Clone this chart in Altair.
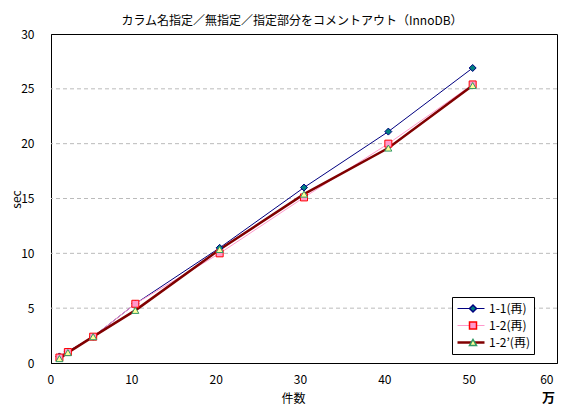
import altair as alt
import pandas as pd

FONT = "Noto Sans CJK JP"

counts = [1, 2, 5, 10, 20, 30, 40, 50]
sec_1_1 = [0.6, 1.05, 2.4, 5.4, 10.5, 16.0, 21.1, 26.9]
sec_1_2 = [0.5, 1.0, 2.4, 5.4, 10.0, 15.1, 20.0, 25.4]
sec_1_2p = [0.4, 0.95, 2.4, 4.8, 10.35, 15.4, 19.6, 25.3]

series_names = ["1-1(再)", "1-2(再)", "1-2’(再)"]
line_colors = ["#000080", "#FF99CC", "#800000"]
line_widths = [1, 1, 2.5]
marker_shapes = ["diamond", "square", "triangle-up"]
marker_fills = ["#008080", "#FF99CC", "#FFFF99"]
marker_strokes = ["#000080", "#FF0000", "#339966"]

grid_values = [5, 10, 15, 20, 25]

df = pd.DataFrame({
    "件数": counts * 3,
    "sec": sec_1_1 + sec_1_2 + sec_1_2p,
    "series": [n for n in series_names for _ in counts],
})
# separate key for the markers, so their legend is not merged with the line legend
marker_keys = [n + "_m" for n in series_names]
df["marker"] = df["series"] + "_m"

LX, LY = 401, 263

x = alt.X(
    "件数:Q",
    scale=alt.Scale(domain=[0, 60], nice=False),
    axis=alt.Axis(values=list(range(0, 61, 10)), title="件数",
                  titleX=242, titleY=35, titleBaseline="middle", labelOffset=-4),
)
y = alt.Y(
    "sec:Q",
    scale=alt.Scale(domain=[0, 30], nice=False),
    axis=alt.Axis(values=list(range(0, 31, 5)), title="sec",
                  titleX=-35, titleY=165, titleBaseline="middle"),
)

line_legend = alt.Legend(
    title=None, orient="none", legendX=LX, legendY=LY,
    symbolType="stroke", symbolSize=729, padding=4, clipHeight=15,
    rowPadding=2, strokeColor="black", fillColor="white", labelOffset=3,
    labelFont=FONT, labelFontSize=12, labelColor="black", zindex=0,
)
# markers drawn on top of the line legend, no labels of their own
marker_legend = alt.Legend(
    title=None, orient="none", legendX=LX, legendY=LY,
    symbolSize=49, symbolOffset=11, padding=4, clipHeight=15,
    rowPadding=2, labelExpr="''", labelOffset=3,
    labelFont=FONT, labelFontSize=12, zindex=1,
)

grid = alt.Chart(pd.DataFrame({"g": grid_values})).mark_rule(
    color="#BBBBBB", strokeDash=[4, 3], strokeWidth=1
).encode(y="g:Q")

lines = alt.Chart(df).mark_line().encode(
    x=x, y=y,
    color=alt.Color("series:N", scale=alt.Scale(domain=series_names, range=line_colors),
                    legend=line_legend),
    strokeWidth=alt.StrokeWidth(
        "series:N",
        scale=alt.Scale(type="ordinal", domain=series_names, range=line_widths),
        legend=line_legend,
    ),
)

points = alt.Chart(df).mark_point(opacity=1, size=49, strokeWidth=1).encode(
    x=x, y=y,
    shape=alt.Shape("marker:N", scale=alt.Scale(domain=marker_keys, range=marker_shapes),
                    legend=marker_legend),
    fill=alt.Fill("marker:N", scale=alt.Scale(domain=marker_keys, range=marker_fills),
                  legend=marker_legend),
    stroke=alt.Stroke("marker:N", scale=alt.Scale(domain=marker_keys, range=marker_strokes),
                      legend=marker_legend),
)

unit = alt.Chart(pd.DataFrame({"t": ["万"]})).mark_text(
    font=FONT, fontSize=13, fontWeight="bold", color="black"
).encode(x=alt.datum(59), y=alt.value(364), text="t:N")

chart = (
    alt.layer(grid, lines, points, unit)
    .properties(
        width=506, height=329,
        title=alt.TitleParams(
            "カラム名指定／無指定／指定部分をコメントアウト（InnoDB）",
            font=FONT, fontSize=12, fontWeight="normal", color="black",
            anchor="middle", dx=-12, offset=0,
        ),
        autosize=alt.AutoSizeParams(type="none"),
        padding={"left": 43, "top": 26, "right": 11, "bottom": 46},
    )
    .configure_view(stroke="black", strokeWidth=1)
    .configure_axis(
        labelFont=FONT, labelFontSize=12, labelColor="black",
        titleFont=FONT, titleFontSize=12, titleFontWeight="normal", titleColor="black",
        domainColor="black", ticks=False, grid=False,
    )
    .configure_axisX(labelPadding=11)
    .configure_axisY(labelPadding=17)
)

chart.save("out.html", embed_options={"renderer": "svg", "actions": False})
